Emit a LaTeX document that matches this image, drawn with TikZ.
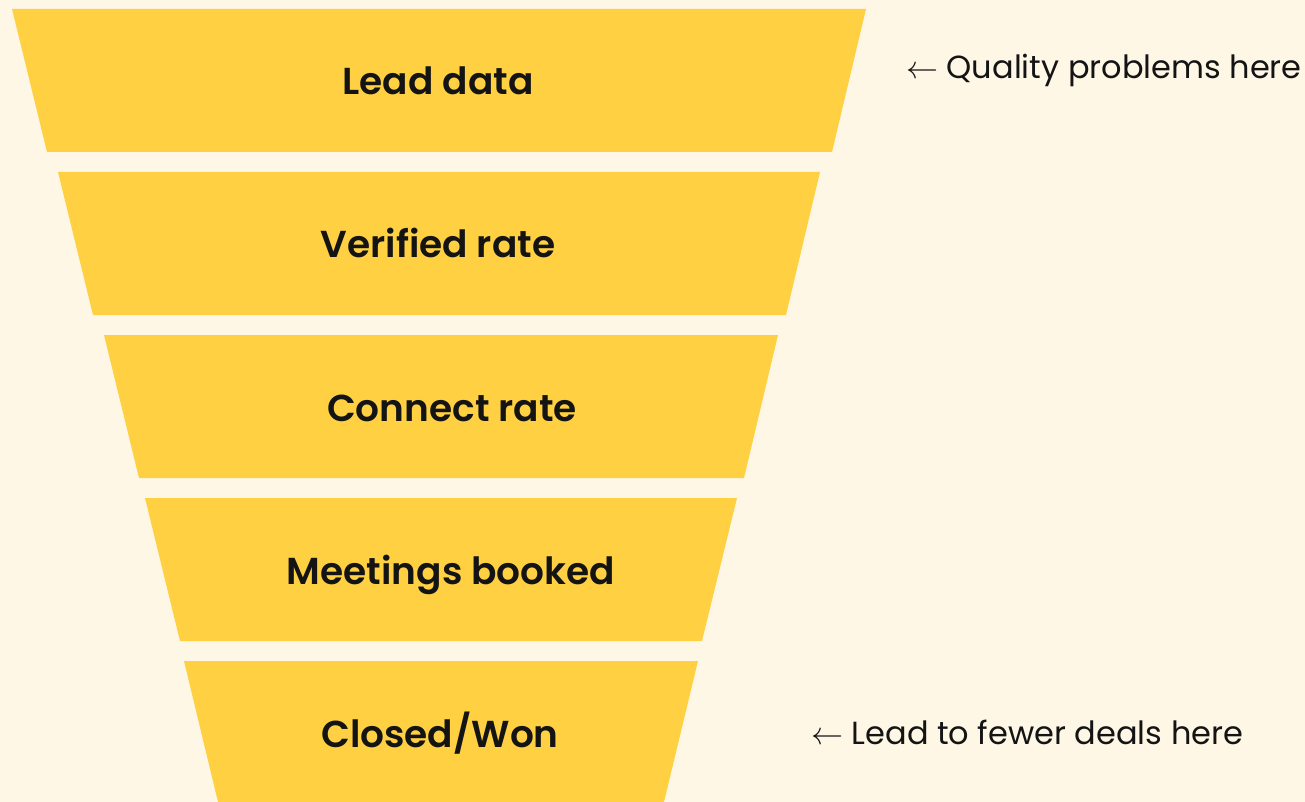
\documentclass[tikz,border=0pt]{standalone}
\usepackage{fix-cm}
\usepackage{fontspec}
\setmainfont{Poppins}
\newfontfamily\stagefont{Poppins SemiBold}
\definecolor{paper}{HTML}{FEF7E6}
\definecolor{funnel}{HTML}{FFD042}
\definecolor{ink}{HTML}{141414}
\tikzset{
	stage/.style={fill=funnel},
	stagetext/.style={text=ink,font=\stagefont\fontsize{37.5}{45}\selectfont,anchor=base,inner sep=0pt},
	notetext/.style={text=ink,font=\fontsize{32}{38}\selectfont,anchor=base west,inner sep=0pt}
}
\begin{document}
\begin{tikzpicture}[x=1pt,y=-1pt]
		\fill[paper] (0,0) rectangle (1305,802);
		\useasboundingbox (0,0) rectangle (1305,802);
		
		\fill[stage] (12,9) -- (866,9) -- (832,152) -- (47,152) -- cycle;
		\fill[stage] (58,172) -- (820,172) -- (786,315) -- (93,315) -- cycle;
		\fill[stage] (104,335) -- (778,335) -- (744,478) -- (139,478) -- cycle;
		\fill[stage] (145,498) -- (737,498) -- (702,641) -- (180,641) -- cycle;
		\fill[stage] (184,661) -- (698,661) -- (664,802) -- (218,802) -- cycle;
		
		\node[stagetext] (s1) at (438,95) {Lead data};
		\node[stagetext] (s2) at (438,258) {Verified rate};
		\node[stagetext] (s3) at (452,421) {Connect rate};
		\node[stagetext] (s4) at (451,584) {Meetings booked};
		\node[stagetext] (s5) at (440,747) {Closed/Won};
		
		\node[notetext] (n1) at (906,79) {$\leftarrow$ Quality problems here};
		\node[notetext] (n2) at (811,744) {$\leftarrow$ Lead to fewer deals here};
\end{tikzpicture}
\end{document}
